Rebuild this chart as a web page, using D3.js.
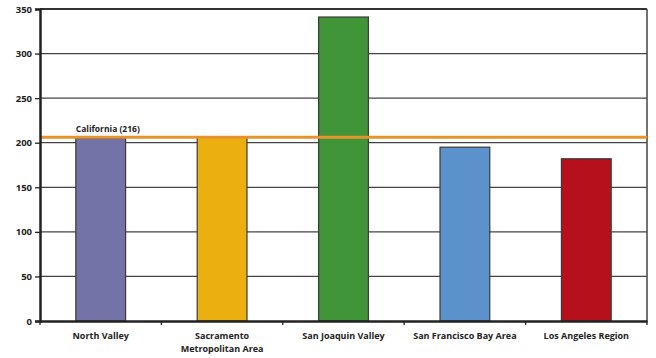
<!DOCTYPE html>
<html>
<head>
<meta charset="utf-8">
<script src="https://cdn.jsdelivr.net/npm/d3@7"></script>
<style>
  body { margin: 0; background: #fff; }
  text { font-family: "Open Sans", "DejaVu Sans", sans-serif; font-weight: bold; fill: #222; }
</style>
</head>
<body>
<div id="chart"></div>
<script>
// data
var regions = ["North Valley", "Sacramento|Metropolitan Area", "San Joaquin Valley", "San Francisco Bay Area", "Los Angeles Region"]
var values = [205, 206, 341, 195, 182]
var colors = ["#7373a8", "#ebb00f", "#3f9537", "#5b92cc", "#b5101c"]
var yTicks = [0, 50, 100, 150, 200, 250, 300, 350]
var stateValue = 206
var stateLabel = "California (216)"

var margin = {top: 9, right: 9, bottom: 37, left: 40},
    width = 656 - margin.left - margin.right,
    height = 358 - margin.top - margin.bottom;

var svg = d3.select("#chart")
    .append("svg")
    .attr("width", 656)
    .attr("height", 358)
    .append("g")
    .attr("transform", "translate(" + margin.left + "," + margin.top + ")");

var x = d3.scaleBand()
    .domain(regions)
    .range([0, width])
    .paddingInner(0.59)
    .paddingOuter(0.295)

var y = d3.scaleLinear().domain([0, 350]).range([height, 0])

// gridlines
svg.append("g")
  .selectAll("line")
  .data(yTicks.slice(1))
  .enter()
  .append("line")
    .attr("x1", 0)
    .attr("x2", width)
    .attr("y1", d => y(d))
    .attr("y2", d => y(d))
    .attr("stroke", d => d == 350 ? "#333" : "#444")
    .attr("stroke-width", d => d == 350 ? 2 : 1.3)

// right border
svg.append("line")
  .attr("x1", width).attr("x2", width)
  .attr("y1", 0).attr("y2", height)
  .attr("stroke", "#444").attr("stroke-width", 1.5)

// bars
svg.append("g")
  .selectAll("rect")
  .data(values)
  .enter()
  .append("rect")
    .attr("x", (d, i) => x(regions[i]))
    .attr("y", d => y(d))
    .attr("width", x.bandwidth())
    .attr("height", d => height - y(d))
    .attr("fill", (d, i) => colors[i])
    .attr("stroke", "#3a3a3a")
    .attr("stroke-width", 1.2)

// state average line
svg.append("line")
  .attr("x1", 0).attr("x2", width)
  .attr("y1", y(stateValue)).attr("y2", y(stateValue))
  .attr("stroke", "#e8922e")
  .attr("stroke-width", 3)

svg.append("text")
  .attr("x", x(regions[0]))
  .attr("y", y(stateValue) - 5)
  .style("font-size", "8.5px")
  .text(stateLabel)

// y axis
var yAxis = svg.append("g")
  .call(d3.axisLeft(y).tickValues(yTicks).tickSize(5).tickPadding(3))
yAxis.select(".domain").attr("stroke", "#222").attr("stroke-width", 2.5)
yAxis.selectAll(".tick line").attr("stroke", "#222").attr("stroke-width", 1.3)
yAxis.selectAll("text").style("font-size", "9.5px").attr("fill", "#222")

// x axis
var xAxis = svg.append("g")
  .attr("transform", "translate(0," + height + ")")
  .call(d3.axisBottom(x).tickSize(0).tickFormat(""))
xAxis.select(".domain").attr("stroke", "#222").attr("stroke-width", 2.5)

// category separators
svg.append("g")
  .selectAll("line")
  .data(d3.range(regions.length + 1))
  .enter()
  .append("line")
    .attr("x1", i => i * x.step())
    .attr("x2", i => i * x.step())
    .attr("y1", height)
    .attr("y2", height + 4)
    .attr("stroke", "#222")
    .attr("stroke-width", 1.3)

// category labels
var labels = svg.append("g")
  .selectAll("text")
  .data(regions)
  .enter()
  .append("text")
    .attr("text-anchor", "middle")
    .attr("transform", d => "translate(" + (x(d) + x.bandwidth() / 2) + "," + (height + 18) + ")")
    .style("font-size", "9px")
labels.selectAll("tspan")
  .data(d => d.split("|"))
  .enter()
  .append("tspan")
    .attr("x", 0)
    .attr("dy", (d, i) => i == 0 ? 0 : 13)
    .text(d => d)
</script>
</body>
</html>
